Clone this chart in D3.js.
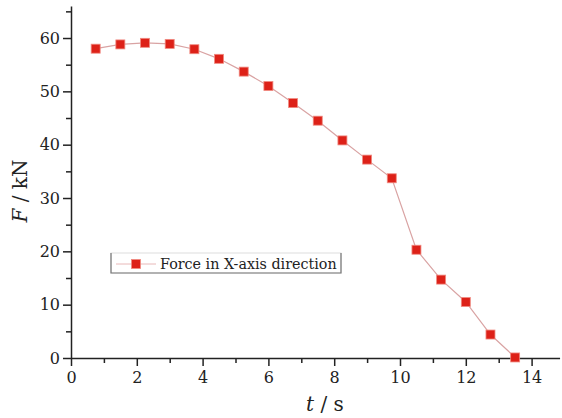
<!DOCTYPE html>
<html>
<head>
<meta charset="utf-8">
<script src="https://cdn.jsdelivr.net/npm/d3@7"></script>
<style>
  html, body { margin: 0; padding: 0; background: #fff; }
</style>
</head>
<body>
<div id="chart"></div>
<script>
var times = [0.75, 1.5, 2.25, 3, 3.75, 4.5, 5.25, 6, 6.75, 7.5, 8.25, 9, 9.75, 10.5, 11.25, 12, 12.75, 13.5];
var forces = [58, 58.8, 59.1, 58.9, 57.9, 56.1, 53.7, 51, 47.8, 44.5, 40.8, 37.2, 33.7, 20.3, 14.7, 10.5, 4.4, 0.1];
var xTicks = [0, 2, 4, 6, 8, 10, 12, 14];
var yTicks = [0, 10, 20, 30, 40, 50, 60];
var seriesName = "Force in X-axis direction";

var data = times.map(function(t, i) { return { t: t, f: forces[i] }; });

var width = 562, height = 418;
var left = 71, bottom = 358;
var serif = "DejaVu Serif";

var svg = d3.select("#chart").append("svg")
  .attr("width", width)
  .attr("height", height)
  .style("font-family", serif);

var x = d3.scaleLinear().domain([0, 14.85]).range([left, left + 14.85 * 32.9]);
var y = d3.scaleLinear().domain([0, 66]).range([bottom, bottom - 66 * 5.333]);

// minor ticks
svg.append("g")
  .attr("transform", "translate(0," + bottom + ")")
  .call(d3.axisBottom(x).tickValues(d3.range(1, 15, 2)).tickSize(5).tickFormat(""))
  .call(function(g) { g.select(".domain").remove(); g.selectAll("line").attr("stroke", "#222").attr("stroke-width", 1.5); });

svg.append("g")
  .attr("transform", "translate(" + left + ",0)")
  .call(d3.axisLeft(y).tickValues(d3.range(5, 66, 10)).tickSize(5).tickFormat(""))
  .call(function(g) { g.select(".domain").remove(); g.selectAll("line").attr("stroke", "#222").attr("stroke-width", 1.5); });

// major axes
var xAxis = svg.append("g")
  .attr("transform", "translate(0," + bottom + ")")
  .call(d3.axisBottom(x).tickValues(xTicks).tickSize(8).tickPadding(6).tickSizeOuter(0));

var yAxis = svg.append("g")
  .attr("transform", "translate(" + left + ",0)")
  .call(d3.axisLeft(y).tickValues(yTicks).tickSize(8).tickPadding(3).tickSizeOuter(0));

[xAxis, yAxis].forEach(function(g) {
  g.attr("font-family", null).attr("font-size", 16);
  g.select(".domain").attr("stroke", "#222").attr("stroke-width", 1.5);
  g.selectAll(".tick line").attr("stroke", "#222").attr("stroke-width", 1.5);
  g.selectAll(".tick text").attr("fill", "#222");
});

// line
var line = d3.line()
  .x(function(d) { return x(d.t); })
  .y(function(d) { return y(d.f); });

svg.append("path")
  .datum(data)
  .attr("fill", "none")
  .attr("stroke", "#d9a3a3")
  .attr("stroke-width", 1.2)
  .attr("d", line);

// markers
var ms = 9;
svg.selectAll(".pt")
  .data(data)
  .enter().append("rect")
  .attr("class", "pt")
  .attr("x", function(d) { return x(d.t) - ms / 2; })
  .attr("y", function(d) { return y(d.f) - ms / 2; })
  .attr("width", ms)
  .attr("height", ms)
  .attr("fill", "#dd2118")
  .attr("stroke", "#f08a80")
  .attr("stroke-width", 0.8);

// legend
var lg = svg.append("g");
lg.append("rect")
  .attr("x", 111).attr("y", 253).attr("width", 230).attr("height", 20)
  .attr("fill", "#fff").attr("stroke", "#ddd").attr("stroke-width", 1);
lg.append("path")
  .attr("d", "M111,253V273H341V253")
  .attr("fill", "none").attr("stroke", "#777").attr("stroke-width", 1.2);
lg.append("line")
  .attr("x1", 116).attr("x2", 156).attr("y1", 264).attr("y2", 264)
  .attr("stroke", "#e8b8b8").attr("stroke-width", 1);
lg.append("rect")
  .attr("x", 136 - ms / 2).attr("y", 264 - ms / 2).attr("width", ms).attr("height", ms)
  .attr("fill", "#dd2118").attr("stroke", "#f08a80").attr("stroke-width", 0.8);
lg.append("text")
  .attr("x", 160).attr("y", 269)
  .attr("font-size", 14.3)
  .attr("fill", "#222")
  .text(seriesName);

// axis titles
var xt = svg.append("text")
  .attr("x", 325).attr("y", 411)
  .attr("text-anchor", "middle")
  .attr("font-size", 20)
  .attr("fill", "#222");
xt.append("tspan").attr("font-style", "italic").text("t");
xt.append("tspan").text(" / s");

var yt = svg.append("text")
  .attr("transform", "translate(27,191) rotate(-90)")
  .attr("text-anchor", "middle")
  .attr("font-size", 20)
  .attr("fill", "#222");
yt.append("tspan").attr("font-style", "italic").text("F");
yt.append("tspan").text(" / kN");
</script>
</body>
</html>
